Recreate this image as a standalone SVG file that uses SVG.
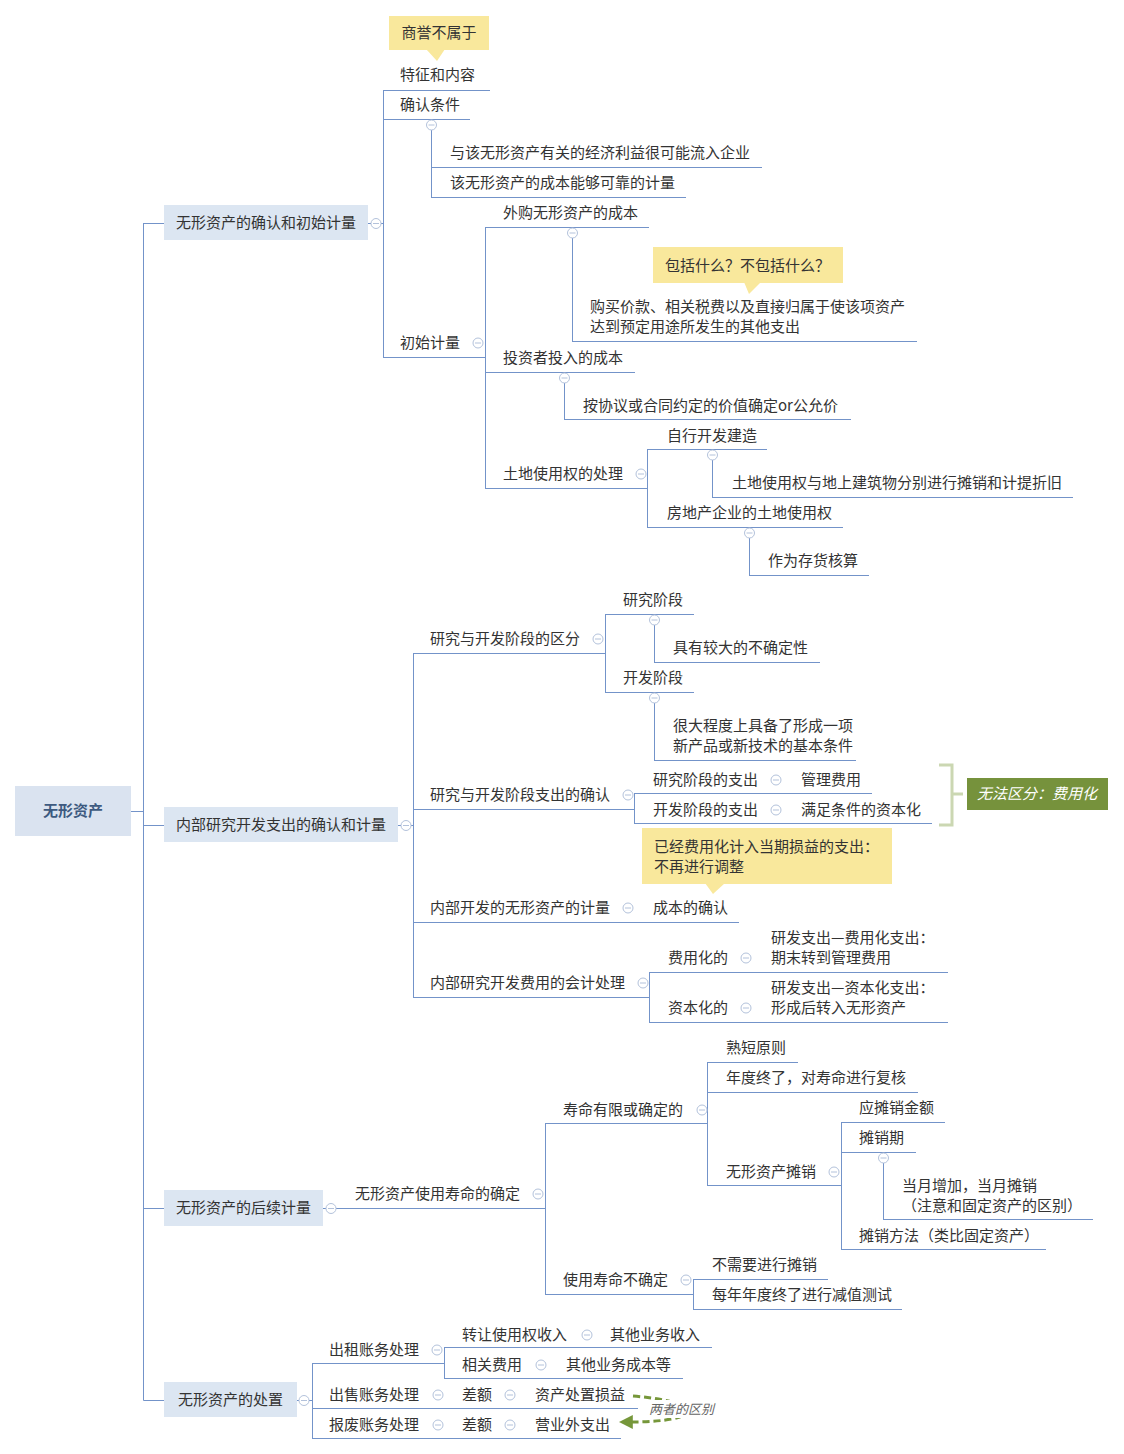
<svg xmlns="http://www.w3.org/2000/svg" width="1124" height="1454" viewBox="0 0 1124 1454">
<defs>
<style>
.t{font-family:"Noto Sans CJK SC","Liberation Sans",sans-serif;font-size:15px;fill:#333}
.root{font-family:"Noto Sans CJK SC","Liberation Sans",sans-serif;font-size:15px;font-weight:bold;fill:#3d5a80}
.ln{stroke:#7393c9;stroke-width:1;fill:none}
.box{fill:#dce6f2}
.call{fill:#f9e89c}
.gt{font-family:"Noto Sans CJK SC","Liberation Sans",sans-serif;font-size:15px;font-style:italic;fill:#fff}
.lab{font-family:"Noto Sans CJK SC","Liberation Sans",sans-serif;font-size:13px;font-style:italic;fill:#666}
</style>
<g id="tog"><circle r="5" fill="#fff" stroke="#b3c2db" stroke-width="1"/><line x1="-3" y1="0" x2="3" y2="0" stroke="#b3c2db" stroke-width="1"/></g>
<marker id="arr" viewBox="0 0 10 10" refX="2" refY="5" markerWidth="14" markerHeight="14" markerUnits="userSpaceOnUse" orient="auto"><path d="M0,0 L10,5 L0,10 z" fill="#76973a"/></marker>
</defs>
<rect width="1124" height="1454" fill="#fff"/>

<g id="connectors">
<!-- trunk -->
<path class="ln" d="M131,811.5H143.5M143.5,223V1400.5M143.5,223.5H164M143.5,825.5H164M143.5,1208.5H164M143.5,1400.5H164"/>
<!-- branch 1 -->
<path class="ln" d="M368,223.5H371M381,223.5H383.5M383.5,90V357.5"/>
<path class="ln" d="M383,90.5H490M383,119.5H470M431.5,130V197.5M431,167.5H762M431,197.5H686"/>
<path class="ln" d="M383,357.5H485.5M485.5,227V488.5M485,227.5H649M572.5,238V341.5M572,341.5H917"/>
<path class="ln" d="M485,372.5H635M564.5,383V419.5M564,419.5H851"/>
<path class="ln" d="M485,488.5H647.5M647.5,449V527.5M647,449.5H767M712.5,460V497.5M712,497.5H1073M647,527.5H843M749.5,538V575.5M749,575.5H869"/>
<!-- branch 2 -->
<path class="ln" d="M398,825.5H401M411,825.5H413.5M413.5,653V997.5"/>
<path class="ln" d="M413,653.5H605.5M605.5,614V692.5M605,614.5H694M654.5,625V662.5M654,662.5H820M605,692.5H694M654.5,703V760.5M654,760.5H856"/>
<path class="ln" d="M413,809.5H634.5M634.5,793V823.5M634,793.5H872M634,823.5H932"/>
<path class="ln" d="M413,922.5H739"/>
<path class="ln" d="M413,997.5H649.5M649.5,972V1022.5M649,972.5H948M649,1022.5H948"/>
<path d="M939,765H952V825H939M952,794H963" fill="none" stroke="#cbd7b2" stroke-width="3"/>
<!-- branch 3 -->
<path class="ln" d="M323,1208.5H326M336,1208.5H545.5M545.5,1123V1294.5"/>
<path class="ln" d="M545,1123.5H707.5M707.5,1062V1185.5M707,1062.5H798M707,1092.5H918M707,1185.5H841.5M841.5,1122V1249.5M841,1122.5H945M841,1152.5H916M883.5,1163V1219.5M883,1219.5H1093M841,1249.5H1046"/>
<path class="ln" d="M545,1294.5H693.5M693.5,1279V1309.5M693,1279.5H828M693,1309.5H902"/>
<!-- branch 4 -->
<path class="ln" d="M297,1400.5H299M309,1400.5H312.5M312.5,1363V1438.5"/>
<path class="ln" d="M312,1363.5H444.5M444.5,1347V1378.5M444,1347.5H712M444,1378.5H683M312,1408.5H638M312,1438.5H621"/>
<!-- toggles -->
<use href="#tog" x="376" y="223.5"/>
<use href="#tog" x="431.5" y="125"/>
<use href="#tog" x="478" y="343"/>
<use href="#tog" x="572.5" y="233"/>
<use href="#tog" x="564.5" y="378"/>
<use href="#tog" x="641" y="474"/>
<use href="#tog" x="712.5" y="455"/>
<use href="#tog" x="749.5" y="533"/>
<use href="#tog" x="406" y="825.5"/>
<use href="#tog" x="598" y="639"/>
<use href="#tog" x="654.5" y="620"/>
<use href="#tog" x="654.5" y="698"/>
<use href="#tog" x="628" y="795"/>
<use href="#tog" x="776" y="780"/>
<use href="#tog" x="776" y="810"/>
<use href="#tog" x="628" y="908"/>
<use href="#tog" x="643" y="983"/>
<use href="#tog" x="746" y="958"/>
<use href="#tog" x="746" y="1008"/>
<use href="#tog" x="331" y="1208.5"/>
<use href="#tog" x="538" y="1194"/>
<use href="#tog" x="702" y="1110"/>
<use href="#tog" x="834" y="1172"/>
<use href="#tog" x="883.5" y="1158"/>
<use href="#tog" x="686" y="1280"/>
<use href="#tog" x="304" y="1400.5"/>
<use href="#tog" x="437" y="1350"/>
<use href="#tog" x="587" y="1335"/>
<use href="#tog" x="541" y="1365"/>
<use href="#tog" x="438" y="1395"/>
<use href="#tog" x="510" y="1395"/>
<use href="#tog" x="438" y="1425"/>
<use href="#tog" x="510" y="1425"/>
<!-- relation arrow -->
<path d="M633,1396 C706,1402 706,1422 630,1422" fill="none" stroke="#76973a" stroke-width="3" stroke-dasharray="7,4" marker-end="url(#arr)"/>
</g>

<g id="n-root"><rect x="15" y="786" width="116" height="50" fill="#dae3f0"/><text class="root" x="73" y="816" text-anchor="middle">无形资产</text></g>

<g id="n-m1"><rect class="box" x="164" y="205" width="204" height="35"/><text class="t" x="266" y="228" text-anchor="middle">无形资产的确认和初始计量</text></g>
<g id="n-m2"><rect class="box" x="164" y="807" width="234" height="35"/><text class="t" x="281" y="830" text-anchor="middle">内部研究开发支出的确认和计量</text></g>
<g id="n-m3"><rect class="box" x="164" y="1190" width="159" height="36"/><text class="t" x="243.5" y="1213" text-anchor="middle">无形资产的后续计量</text></g>
<g id="n-m4"><rect class="box" x="164" y="1382" width="133" height="35"/><text class="t" x="230.5" y="1405" text-anchor="middle">无形资产的处置</text></g>

<!-- branch 1 nodes -->
<g id="n-tezheng"><text class="t" x="400" y="80">特征和内容</text></g>
<g id="c-shangyu"><rect class="call" x="389" y="16" width="100" height="34"/><path class="call" d="M426,49 L445,49 L437,61 z"/><text class="t" x="439" y="38" text-anchor="middle">商誉不属于</text></g>
<g id="n-queren"><text class="t" x="400" y="110">确认条件</text></g>
<g id="n-q1"><text class="t" x="450" y="158">与该无形资产有关的经济利益很可能流入企业</text></g>
<g id="n-q2"><text class="t" x="450" y="188">该无形资产的成本能够可靠的计量</text></g>
<g id="n-chushi"><text class="t" x="400" y="348">初始计量</text></g>
<g id="n-waigou"><text class="t" x="503" y="218">外购无形资产的成本</text></g>
<g id="c-baokuo"><rect class="call" x="653" y="247" width="190" height="36"/><path class="call" d="M744,282 L761,282 L749,294 z"/><text class="t" x="665" y="271">包括什么？不包括什么？</text></g>
<g id="n-goumai"><text class="t" x="590" y="312">购买价款、相关税费以及直接归属于使该项资产</text><text class="t" x="590" y="332">达到预定用途所发生的其他支出</text></g>
<g id="n-touzi"><text class="t" x="503" y="363">投资者投入的成本</text></g>
<g id="n-xieyi"><text class="t" x="583" y="411">按协议或合同约定的价值确定or公允价</text></g>
<g id="n-tudi"><text class="t" x="503" y="479">土地使用权的处理</text></g>
<g id="n-zixing"><text class="t" x="667" y="441">自行开发建造</text></g>
<g id="n-fenbie"><text class="t" x="732" y="488">土地使用权与地上建筑物分别进行摊销和计提折旧</text></g>
<g id="n-fangdi"><text class="t" x="667" y="518">房地产企业的土地使用权</text></g>
<g id="n-cunhuo"><text class="t" x="768" y="566">作为存货核算</text></g>

<!-- branch 2 nodes -->
<g id="n-qufen"><text class="t" x="430" y="644">研究与开发阶段的区分</text></g>
<g id="n-yanjiu"><text class="t" x="623" y="605">研究阶段</text></g>
<g id="n-buqueding"><text class="t" x="673" y="653">具有较大的不确定性</text></g>
<g id="n-kaifa"><text class="t" x="623" y="683">开发阶段</text></g>
<g id="n-tiaojian"><text class="t" x="673" y="731">很大程度上具备了形成一项</text><text class="t" x="673" y="751">新产品或新技术的基本条件</text></g>
<g id="n-zhichu"><text class="t" x="430" y="800">研究与开发阶段支出的确认</text></g>
<g id="n-yjzc"><text class="t" x="653" y="785">研究阶段的支出</text></g>
<g id="n-guanli"><text class="t" x="801" y="785">管理费用</text></g>
<g id="n-kfzc"><text class="t" x="653" y="815">开发阶段的支出</text></g>
<g id="n-manzu"><text class="t" x="801" y="815">满足条件的资本化</text></g>
<g id="s-wufa"><rect x="967" y="778" width="141" height="32" fill="#76923c"/><text class="gt" x="977" y="799">无法区分：费用化</text></g>
<g id="c-yijing"><rect class="call" x="642" y="828" width="250" height="56"/><path class="call" d="M705,883 L725,883 L713,894 z"/><text class="t" x="654" y="852">已经费用化计入当期损益的支出：</text><text class="t" x="654" y="872">不再进行调整</text></g>
<g id="n-jiliang"><text class="t" x="430" y="913">内部开发的无形资产的计量</text></g>
<g id="n-chengben"><text class="t" x="653" y="913">成本的确认</text></g>
<g id="n-kuaiji"><text class="t" x="430" y="988">内部研究开发费用的会计处理</text></g>
<g id="n-feiyong"><text class="t" x="668" y="963">费用化的</text></g>
<g id="n-fy2"><text class="t" x="771" y="943">研发支出—费用化支出：</text><text class="t" x="771" y="963">期末转到管理费用</text></g>
<g id="n-ziben"><text class="t" x="668" y="1013">资本化的</text></g>
<g id="n-zb2"><text class="t" x="771" y="993">研发支出—资本化支出：</text><text class="t" x="771" y="1013">形成后转入无形资产</text></g>

<!-- branch 3 nodes -->
<g id="n-shouming"><text class="t" x="355" y="1199">无形资产使用寿命的确定</text></g>
<g id="n-youxian"><text class="t" x="563" y="1115">寿命有限或确定的</text></g>
<g id="n-shuduan"><text class="t" x="726" y="1053">熟短原则</text></g>
<g id="n-fuhe"><text class="t" x="726" y="1083">年度终了，对寿命进行复核</text></g>
<g id="n-tanxiao"><text class="t" x="726" y="1177">无形资产摊销</text></g>
<g id="n-jine"><text class="t" x="859" y="1113">应摊销金额</text></g>
<g id="n-qi"><text class="t" x="859" y="1143">摊销期</text></g>
<g id="n-dangyue"><text class="t" x="902" y="1191">当月增加，当月摊销</text><text class="t" x="902" y="1211">（注意和固定资产的区别）</text></g>
<g id="n-fangfa"><text class="t" x="859" y="1241">摊销方法（类比固定资产）</text></g>
<g id="n-buqd"><text class="t" x="563" y="1285">使用寿命不确定</text></g>
<g id="n-buxuyao"><text class="t" x="712" y="1270">不需要进行摊销</text></g>
<g id="n-jianzhi"><text class="t" x="712" y="1300">每年年度终了进行减值测试</text></g>

<!-- branch 4 nodes -->
<g id="n-chuzu"><text class="t" x="329" y="1355">出租账务处理</text></g>
<g id="n-zhuanrang"><text class="t" x="462" y="1340">转让使用权收入</text></g>
<g id="n-qtsr"><text class="t" x="610" y="1340">其他业务收入</text></g>
<g id="n-xiangguan"><text class="t" x="462" y="1370">相关费用</text></g>
<g id="n-qtcb"><text class="t" x="566" y="1370">其他业务成本等</text></g>
<g id="n-chushou"><text class="t" x="329" y="1400">出售账务处理</text></g>
<g id="n-cha1"><text class="t" x="462" y="1400">差额</text></g>
<g id="n-sunyi"><text class="t" x="535" y="1400">资产处置损益</text></g>
<g id="n-baofei"><text class="t" x="329" y="1430">报废账务处理</text></g>
<g id="n-cha2"><text class="t" x="462" y="1430">差额</text></g>
<g id="n-yingye"><text class="t" x="535" y="1430">营业外支出</text></g>
<g id="l-qubie"><rect x="646" y="1400" width="70" height="18" fill="#fff"/><text class="lab" x="649" y="1414">两者的区别</text></g>
</svg>
